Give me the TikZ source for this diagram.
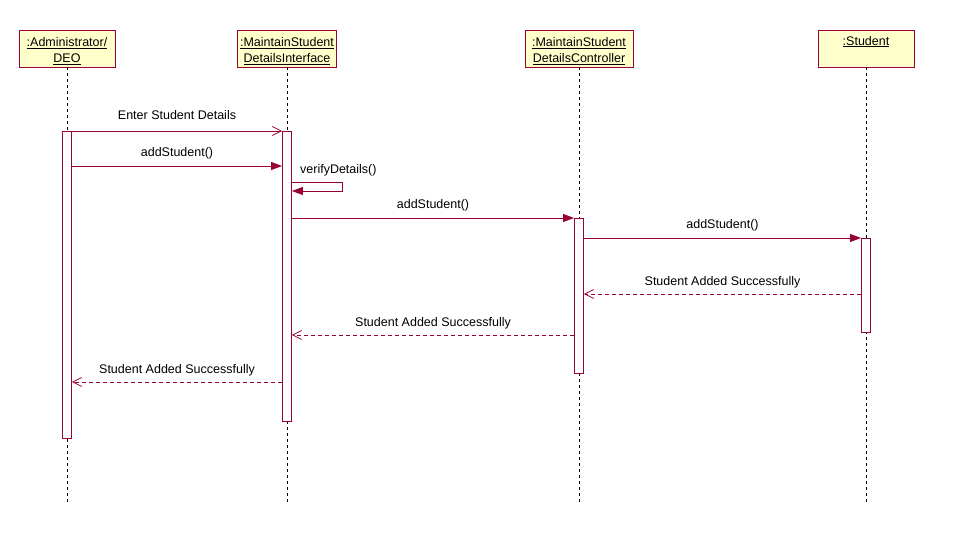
\documentclass[tikz,border=0pt]{standalone}
\usepackage{fontspec}
\setmainfont{Liberation Sans}
\usetikzlibrary{arrows.meta}
\definecolor{rosered}{HTML}{990033}
\definecolor{rosefill}{HTML}{FFFFCC}
\newcommand{\topgap}{\rule{0pt}{14pt}}
\tikzset{
	head/.style={draw=rosered,fill=rosefill,line width=.9pt,minimum height=37,
		align=center,inner sep=0pt,font=\fontsize{12.5}{16}\selectfont},
	life/.style={black,line width=.8pt,dash pattern=on 3pt off 3pt},
	bar/.style={draw=rosered,fill=white,line width=.9pt,minimum width=9,inner sep=0pt,anchor=north},
	call/.style={rosered,line width=.9pt,-{Triangle[length=11pt,width=8pt]}},
	send/.style={rosered,line width=.9pt,-{Straight Barb[length=9pt,width=9pt,line width=.7pt]}},
	reply/.style={rosered,line width=.8pt,dash pattern=on 4pt off 3pt,-{Straight Barb[length=9pt,width=9pt,line width=.7pt,sep=0pt]}},
	msg/.style={black,font=\fontsize{12.5}{15}\selectfont,inner sep=2pt,above=4pt}
}
\begin{document}
\begin{tikzpicture}[x=1pt,y=-1pt]
\useasboundingbox (0,0) rectangle (974,538);

\node[head,minimum width=96] (adm) at (67,48.5) {\topgap\underline{:Administrator/}\\\underline{DEO}};
\node[head,minimum width=99] (ui) at (287,48.5) {\topgap\underline{:MaintainStudent}\\\underline{DetailsInterface}};
\node[head,minimum width=108] (ctl) at (579,48.5) {\topgap\underline{:MaintainStudent}\\\underline{DetailsController}};
\node[head,minimum width=96] (stu) at (866,48.5) {\topgap\underline{:Student}\\\strut};

\foreach \n in {adm,ui,ctl,stu}
{
	\draw[life] (\n.south) -- (\n.south |- 0,502);
}

\node[bar,minimum height=307] (admbar) at (adm.south |- 0,131) {};
\node[bar,minimum height=290] (uibar) at (ui.south |- 0,131) {};
\node[bar,minimum height=155] (ctlbar) at (ctl.south |- 0,218) {};
\node[bar,minimum height=94] (stubar) at (stu.south |- 0,238) {};

\draw[send] (admbar.east |- 0,131) -- node[msg,above=5pt]{Enter Student Details} (uibar.west |- 0,131);
\draw[call] (admbar.east |- 0,166) -- node[msg]{addStudent()} (uibar.west |- 0,166);

\coordinate (loopa) at (342,182);
\coordinate (loopb) at (342,191);
\draw[call] (uibar.east |- loopa) -- (loopa) -- (loopb) -- (uibar.east |- loopb);
\node[msg,anchor=south west,xshift=6pt,yshift=0pt] at (uibar.east |- loopa) {verifyDetails()};

\draw[call] (uibar.east |- 0,218) -- node[msg]{addStudent()} (ctlbar.west |- 0,218);
\draw[call] (ctlbar.east |- 0,238) -- node[msg]{addStudent()} (stubar.west |- 0,238);
\draw[reply] (stubar.west |- 0,294) -- node[msg]{Student Added Successfully} (ctlbar.east |- 0,294);
\draw[reply] (ctlbar.west |- 0,335) -- node[msg]{Student Added Successfully} (uibar.east |- 0,335);
\draw[reply] (uibar.west |- 0,382) -- node[msg]{Student Added Successfully} (admbar.east |- 0,382);

\end{tikzpicture}
\end{document}
